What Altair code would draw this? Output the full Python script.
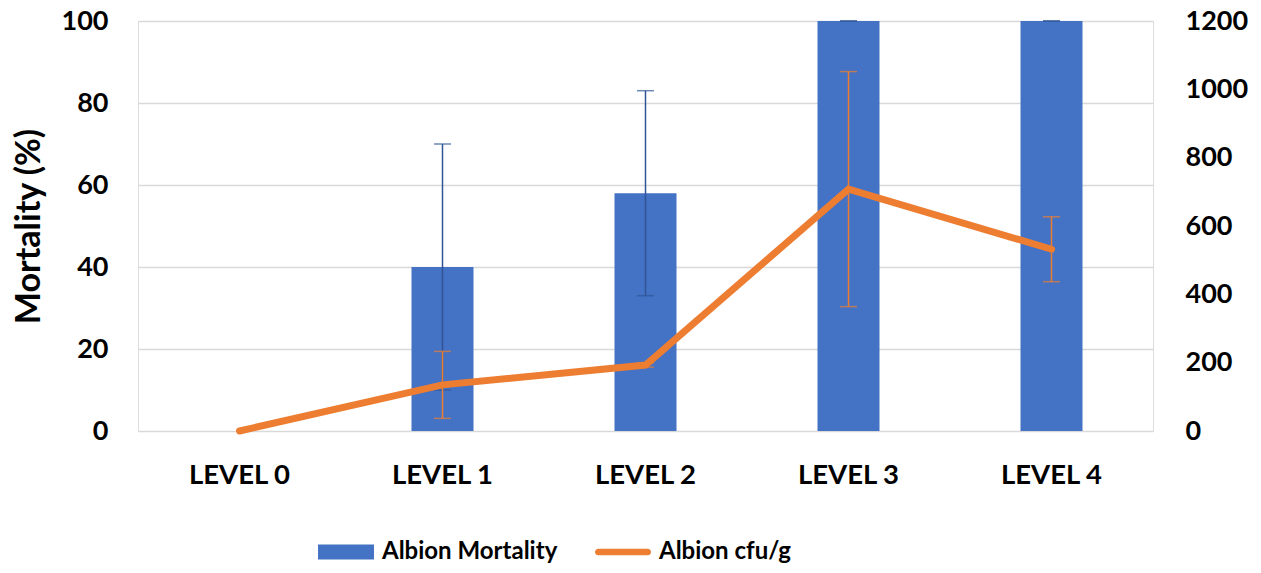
import altair as alt
import pandas as pd

levels = ["LEVEL 0", "LEVEL 1", "LEVEL 2", "LEVEL 3", "LEVEL 4"]
mortality = [0, 40, 58, 100, 100]
mortality_err = [None, 30, 25, 0, 0]
cfu = [0, 135, 193, 708, 532]
cfu_err = [None, 98, 6, 344, 95]
series_names = ["Albion Mortality", "Albion cfu/g"]
series_colors = ["#4472C4", "#ED7D31"]
left_ticks = [0, 20, 40, 60, 80, 100]
right_ticks = [0, 200, 400, 600, 800, 1000, 1200]

df = pd.DataFrame({"level": levels, "mort": mortality, "mort_err": mortality_err,
                   "cfu": cfu, "cfu_err": cfu_err})
df["mort_err"] = df["mort_err"].astype(float)
df["cfu_err"] = df["cfu_err"].astype(float)
df["mort_lo"] = df["mort"] - df["mort_err"]
df["mort_hi"] = df["mort"] + df["mort_err"]
df["cfu_lo"] = df["cfu"] - df["cfu_err"]
df["cfu_hi"] = df["cfu"] + df["cfu_err"]

FONT = "Lato"
base = alt.Chart(df)

x_enc = alt.X("level:N", sort=levels, title=None,
              scale=alt.Scale(paddingInner=0, paddingOuter=0),
              axis=alt.Axis(labelAngle=0, ticks=False, domain=False, grid=False,
                            labelPadding=30, labelFont=FONT, labelFontWeight="bold",
                            labelFontSize=27.5, labelColor="#000000"))

left_scale = alt.Scale(domain=[0, 100], nice=False)
left_axis = alt.Axis(values=left_ticks, grid=True, gridColor="#D9D9D9", gridWidth=1.5,
                     domain=False, ticks=False, labelPadding=30, labelFont=FONT,
                     labelFontWeight="bold", labelFontSize=27, labelColor="#000000",
                     titleFont=FONT, titleFontWeight="bold", titleFontSize=34,
                     titleColor="#000000", titlePadding=15)
right_scale = alt.Scale(domain=[0, 1200], nice=False)
right_axis = alt.Axis(values=right_ticks, grid=False, orient="right", format="d",
                      domain=False, ticks=False, labelPadding=32, labelFont=FONT,
                      labelFontWeight="bold", labelFontSize=27, labelColor="#000000",
                      labelAlign="left")

bars = base.mark_bar(size=62, color=series_colors[0]).encode(
    x=x_enc,
    y=alt.Y("mort:Q", scale=left_scale, axis=left_axis, title="Mortality (%)"))
blue_rule = base.transform_filter("isValid(datum.mort_err)").mark_rule(
    color="#2F5597", strokeWidth=1.5).encode(
    x=x_enc,
    y=alt.Y("mort_lo:Q", scale=left_scale, axis=left_axis, title="Mortality (%)"),
    y2="mort_hi:Q")
blue_cap_lo = base.transform_filter("isValid(datum.mort_err)").mark_tick(
    color="#2F5597", thickness=1.5, size=17).encode(
    x=x_enc,
    y=alt.Y("mort_lo:Q", scale=left_scale, axis=left_axis, title="Mortality (%)"))
blue_cap_hi = base.transform_filter("isValid(datum.mort_err)").mark_tick(
    color="#2F5597", thickness=1.5, size=17).encode(
    x=x_enc,
    y=alt.Y("mort_hi:Q", scale=left_scale, axis=left_axis, title="Mortality (%)"))
left = alt.layer(bars, blue_rule, blue_cap_lo, blue_cap_hi)

orange_rule = base.transform_filter("isValid(datum.cfu_err)").mark_rule(
    color=series_colors[1], strokeWidth=1.5).encode(
    x=x_enc,
    y=alt.Y("cfu_lo:Q", scale=right_scale, axis=right_axis, title=None),
    y2="cfu_hi:Q")
orange_cap_lo = base.transform_filter("isValid(datum.cfu_err)").mark_tick(
    color=series_colors[1], thickness=1.5, size=17).encode(
    x=x_enc,
    y=alt.Y("cfu_lo:Q", scale=right_scale, axis=right_axis, title=None))
orange_cap_hi = base.transform_filter("isValid(datum.cfu_err)").mark_tick(
    color=series_colors[1], thickness=1.5, size=17).encode(
    x=x_enc,
    y=alt.Y("cfu_hi:Q", scale=right_scale, axis=right_axis, title=None))
line = base.mark_line(color=series_colors[1], strokeWidth=7, strokeCap="round",
                      strokeJoin="miter").encode(
    x=x_enc,
    y=alt.Y("cfu:Q", scale=right_scale, axis=right_axis, title=None))

shape_paths = ["M-1,-0.27H1V0.27H-1Z",
               "M-0.88,-0.12H0.88A0.12,0.12 0 0 1 0.88,0.12H-0.88A0.12,0.12 0 0 1 -0.88,-0.12Z"]
legend = alt.Legend(title=None, orient="none", legendX=180, legendY=503,
                    direction="horizontal", symbolSize=3136, symbolStrokeWidth=0,
                    labelFont=FONT, labelFontWeight="bold", labelFontSize=24,
                    labelColor="#000000", labelOffset=8, columnPadding=37,
                    labelLimit=400)
leg_df = pd.DataFrame({"series": series_names})
dummy = alt.Chart(leg_df).mark_point(filled=True, clip=True, opacity=1).encode(
    x=alt.value(-2000), y=alt.value(-2000),
    color=alt.Color("series:N", scale=alt.Scale(domain=series_names, range=series_colors),
                    legend=legend),
    shape=alt.Shape("series:N", scale=alt.Scale(domain=series_names, range=shape_paths),
                    legend=legend))

right = alt.layer(orange_rule, orange_cap_lo, orange_cap_hi, line, dummy)

chart = alt.layer(left, right).resolve_scale(y="independent").properties(
    width=1015, height=410,
    autosize=alt.AutoSizeParams(type="none"),
    padding={"left": 130, "top": 13, "right": 100, "bottom": 134},
).configure_view(stroke=None).configure(background="white")

chart.save("out.html", embed_options={"renderer": "svg", "actions": False})
